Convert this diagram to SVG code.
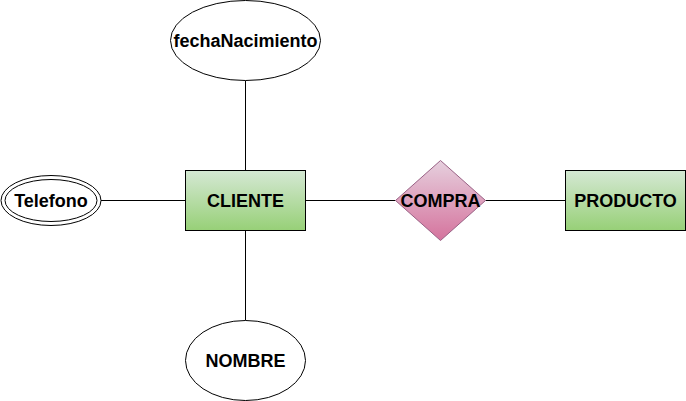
<svg xmlns="http://www.w3.org/2000/svg" width="686" height="401" viewBox="0 0 686 401">
<defs>
<linearGradient id="gGreen" x1="0" y1="0" x2="0" y2="1"><stop offset="0" stop-color="#d5e8d4"/><stop offset="1" stop-color="#97d077"/></linearGradient>
<linearGradient id="gPink" x1="0" y1="0" x2="0" y2="1"><stop offset="0" stop-color="#e6d0de"/><stop offset="1" stop-color="#d5739d"/></linearGradient>
</defs>
<style>
.ln{stroke:#000;stroke-width:1;fill:none}
.ent{fill:url(#gGreen);stroke:#000;stroke-width:1}
.rel{fill:url(#gPink);stroke:#996185;stroke-width:1}
.att{fill:#fff;stroke:#000;stroke-width:1}
.t{font-family:"Liberation Sans",Arial,sans-serif;font-weight:bold;font-size:18px;text-anchor:middle;fill:#000}
</style>
<rect width="686" height="401" fill="#fff"/>
<g id="connectors">
<line class="ln" x1="101" y1="200.5" x2="185.5" y2="200.5"/>
<line class="ln" x1="245.5" y1="80.5" x2="245.5" y2="170.5"/>
<line class="ln" x1="245.5" y1="230.5" x2="245.5" y2="320.5"/>
<line class="ln" x1="305.5" y1="200.5" x2="395.5" y2="200.5"/>
<line class="ln" x1="485.5" y1="200.5" x2="565.5" y2="200.5"/>
</g>
<g id="cliente">
<rect class="ent" x="185.5" y="170.5" width="120" height="60"/>
<text class="t" x="245.5" y="207">CLIENTE</text>
</g>
<g id="compra">
<polygon class="rel" points="440.5,160.5 485.5,200.5 440.5,240.5 395.5,200.5"/>
<text class="t" x="440.5" y="207">COMPRA</text>
</g>
<g id="producto">
<rect class="ent" x="565.5" y="170.5" width="120" height="60"/>
<text class="t" x="625.5" y="207">PRODUCTO</text>
</g>
<g id="telefono">
<ellipse class="att" cx="51" cy="200.5" rx="50" ry="25"/>
<ellipse class="att" cx="51" cy="200.5" rx="46" ry="21"/>
<text class="t" x="51" y="207">Telefono</text>
</g>
<g id="fechaNacimiento">
<ellipse class="att" cx="245.5" cy="40.5" rx="75" ry="40"/>
<text class="t" x="245.5" y="47">fechaNacimiento</text>
</g>
<g id="nombre">
<ellipse class="att" cx="245.5" cy="360.5" rx="60" ry="40"/>
<text class="t" x="245.5" y="367">NOMBRE</text>
</g>
</svg>
